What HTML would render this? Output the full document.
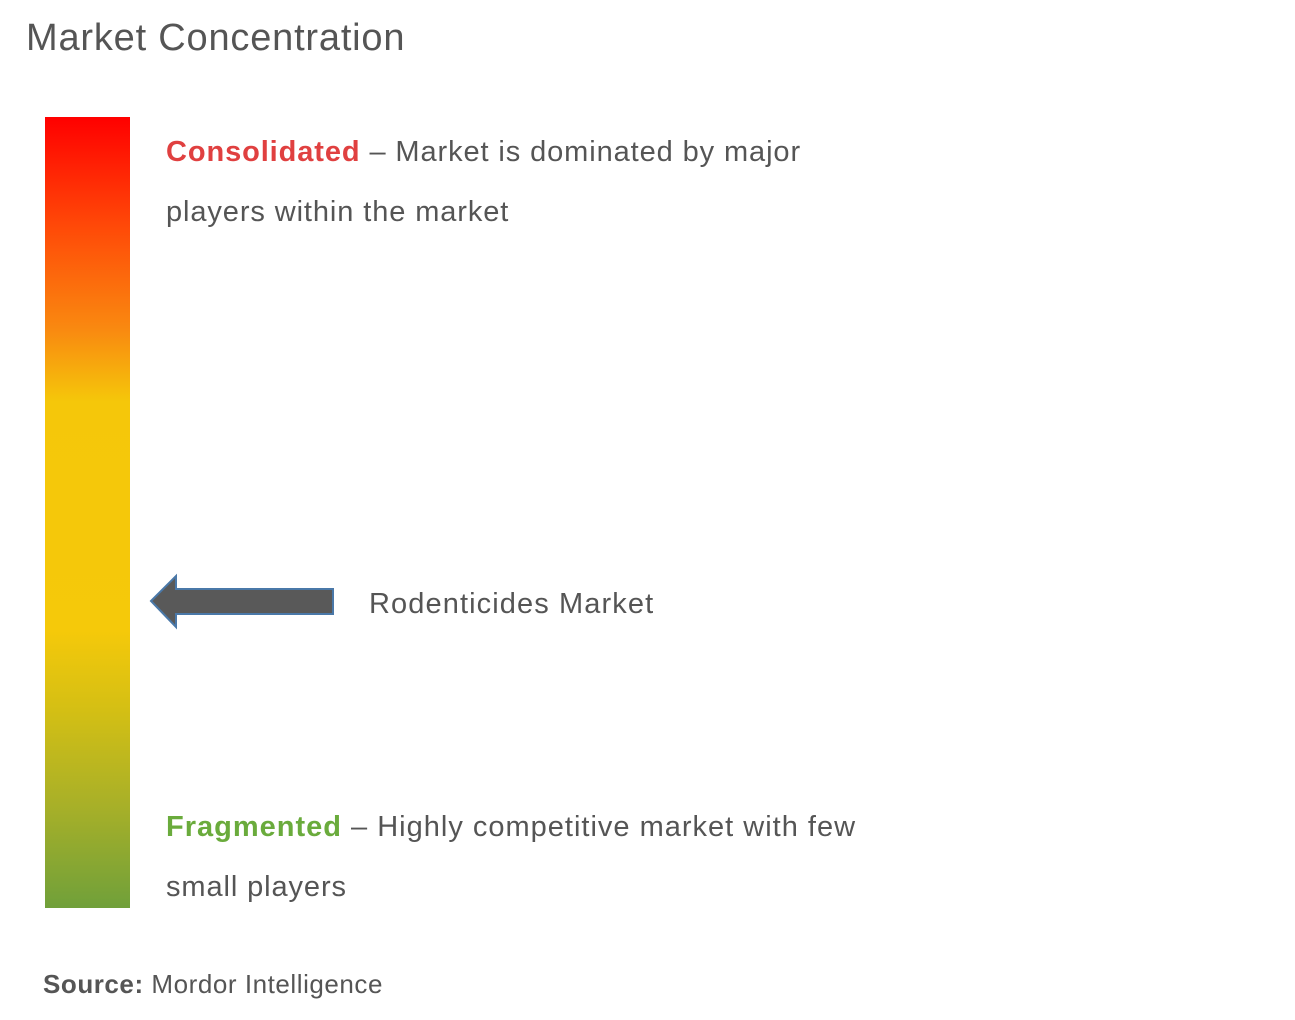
<!DOCTYPE html>
<html><head><meta charset="utf-8"><style>
body{margin:0;width:1295px;height:1020px;background:#fff;font-family:"Liberation Sans",sans-serif;color:#555;position:relative;overflow:hidden}
.t{position:absolute;white-space:nowrap;letter-spacing:0.9px}
</style></head><body>
<div class="t" style="left:26px;top:17px;font-size:38px;color:#555;letter-spacing:0.8px">Market Concentration</div>
<div style="position:absolute;left:45px;top:117px;width:85px;height:791px;background:linear-gradient(to bottom,#ff0000 0%,#ff4a08 14%,#f98a10 27%,#f5c70a 36%,#f5c90a 65%,#d4bf14 75%,#a8b028 87%,#70a03a 100%)"></div>
<div class="t" style="left:166px;top:136px;font-size:29px"><b style="color:#e04040">Consolidated</b> – Market is dominated by major</div>
<div class="t" style="left:166px;top:196px;font-size:29px">players within the market</div>
<svg style="position:absolute;left:0;top:0" width="1295" height="1020"><polygon points="151,601 176,576 176,589 333,589 333,614 176,614 176,627" fill="#595959" stroke="#4a78a8" stroke-width="2"/></svg>
<div class="t" style="left:369px;top:588px;font-size:29px;letter-spacing:1.1px">Rodenticides Market</div>
<div class="t" style="left:166px;top:811px;font-size:29px;letter-spacing:1px"><b style="color:#6aab3c">Fragmented</b> – Highly competitive market with few</div>
<div class="t" style="left:166px;top:871px;font-size:29px">small players</div>
<div class="t" style="left:43px;top:969px;font-size:26px;letter-spacing:0.55px"><b>Source:</b> Mordor Intelligence</div>
</body></html>
